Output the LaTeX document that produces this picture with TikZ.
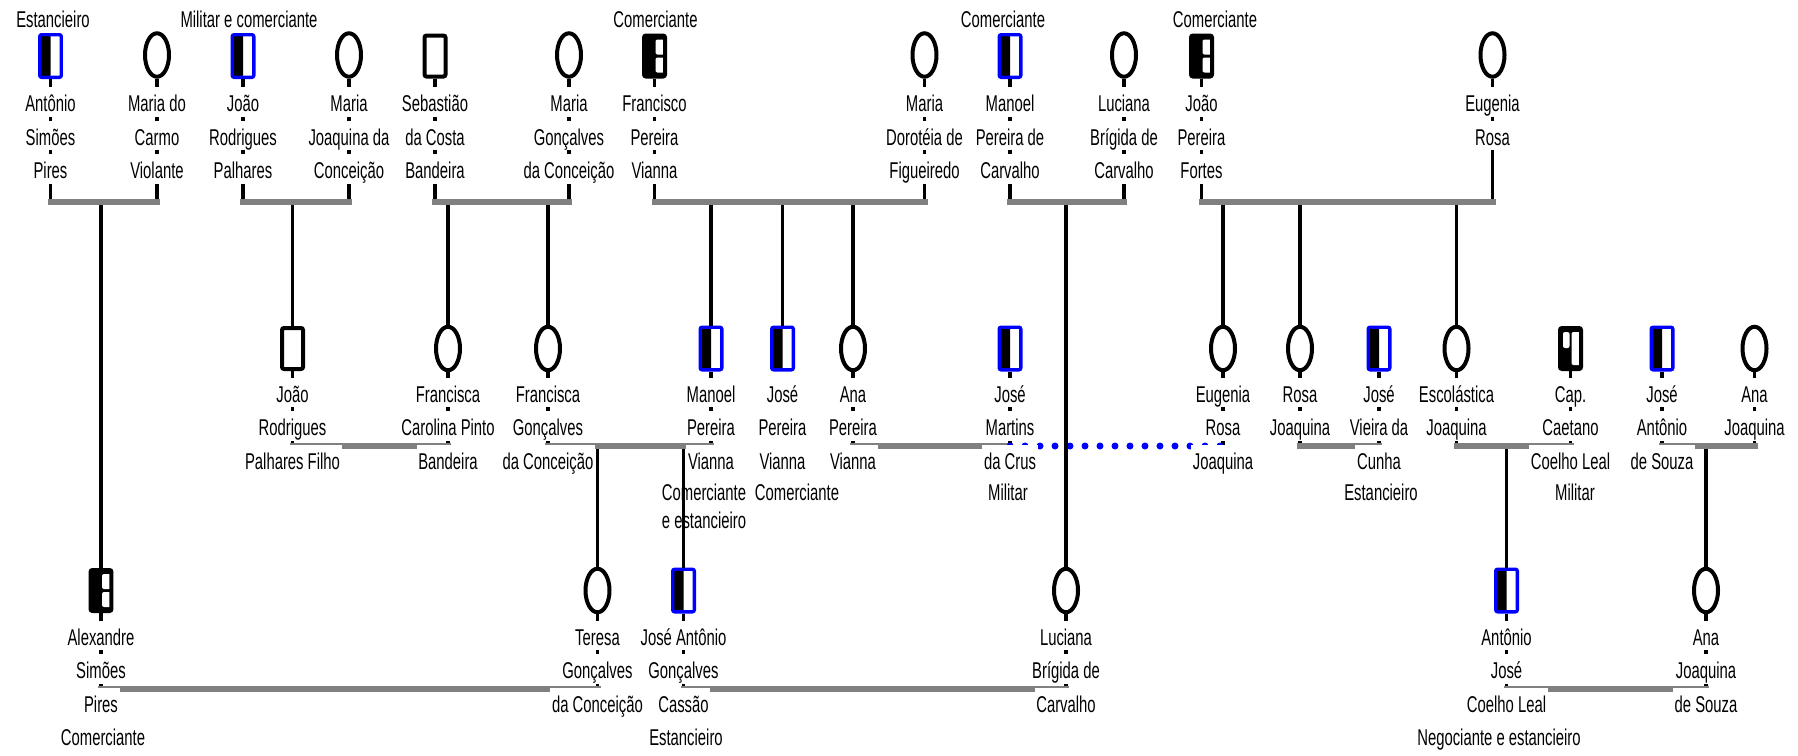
\documentclass[tikz,border=0pt]{standalone}
\usepackage{fontspec}
\usetikzlibrary{shapes,calc,positioning}
\newfontfamily\narrowsans[FakeStretch=0.65]{Liberation Sans}

\newcommand{\names}[4]{%
  \foreach \txt [count=\k] in {#4}
    \node[nameline] (#1-\k) at (#2,{#3+(\k-1)*33.5}) {\txt};}

\tikzset{
  female/.style={ellipse, draw, fill=white, line width=0.08cm, minimum width=0.48cm, minimum height=0.87cm, inner sep=0pt},
  male/.style={rectangle, rounded corners=0.04cm, draw, fill=white, line width=0.08cm, minimum width=0.42cm, minimum height=0.82cm, inner sep=0pt},
  maleblue/.style={male, draw=blue, line width=0.066cm, minimum width=0.434cm, minimum height=0.854cm,
    path picture={\fill[black] (path picture bounding box.south west) rectangle (path picture bounding box.north);}},
  maletrade/.style={male, fill=black, path picture={
    \fill[white] ($(path picture bounding box.center)+(0.02cm,0.03cm)$) rectangle ($(path picture bounding box.center)+(0.3cm,0.33cm)$);
    \fill[white] ($(path picture bounding box.center)+(0.02cm,-0.03cm)$) rectangle ($(path picture bounding box.center)+(0.3cm,-0.33cm)$);}},
  maleofficer/.style={male, fill=black, path picture={
    \fill[white] ($(path picture bounding box.center)+(0.02cm,-0.33cm)$) rectangle ($(path picture bounding box.center)+(0.3cm,0.33cm)$);
    \fill[white] ($(path picture bounding box.center)+(-0.15cm,0.01cm)$) rectangle ($(path picture bounding box.center)+(-0.02cm,0.33cm)$);}},
  link/.style={line width=0.07cm},
  couple/.style={line width=0.12cm, gray, line cap=rect},
  affair/.style={line width=0.14cm, blue, line cap=round, dash pattern=on 0pt off 0.3cm},
  nameline/.style={anchor=base, fill=white, inner xsep=1pt, inner ysep=0pt, text height=0.49cm, text depth=0.1cm,
    font=\narrowsans\fontsize{13}{15}\selectfont}
}

\begin{document}
\begin{tikzpicture}[x=0.02cm, y=-0.02cm]
\useasboundingbox (0,0) rectangle (1798,755);

\coordinate (topbar) at (0,202);
\coordinate (topdrop) at (0,205);
\coordinate (midbar) at (0,446);
\coordinate (middrop) at (0,449);
\coordinate (lowbar) at (0,688.5);

\node[maleblue] (antonio) at (50.5,56) {};
\node[female] (mariacarmo) at (157,55) {};
\node[maleblue] (joao) at (243,56) {};
\node[female] (mariajoaquina) at (349,55) {};
\node[male] (sebastiao) at (435,56) {};
\node[female] (mariagoncalves) at (569,55) {};
\node[maletrade] (francisco) at (654.5,56) {};
\node[female] (mariadoroteia) at (924.5,55) {};
\node[maleblue] (manoel) at (1010,56) {};
\node[female] (luciana) at (1124,55) {};
\node[maletrade] (joaofortes) at (1201.5,56) {};
\node[female] (eugenia) at (1492.5,55) {};

\node[male] (joaofilho) at (292.5,348.5) {};
\node[female] (francisca) at (448,348.5) {};
\node[female] (franciscag) at (548,348.5) {};
\node[maleblue] (manoelv) at (711,348.5) {};
\node[maleblue] (josev) at (782.5,348.5) {};
\node[female] (anav) at (853,348.5) {};
\node[maleblue] (josemartins) at (1010,348.5) {};
\node[female] (eugeniarj) at (1223,348.5) {};
\node[female] (rosaj) at (1300,348.5) {};
\node[maleblue] (josevieira) at (1379,348.5) {};
\node[female] (escolastica) at (1456.5,348.5) {};
\node[maleofficer] (caetano) at (1570.5,348.5) {};
\node[maleblue] (joseantonio) at (1662,348.5) {};
\node[female] (anajoaquina) at (1754.5,348.5) {};

\node[maletrade] (alexandre) at (101,590.5) {};
\node[female] (teresa) at (597.5,590.5) {};
\node[maleblue] (joseantoniog) at (683.5,590.5) {};
\node[female] (lucianab) at (1066,590.5) {};
\node[maleblue] (antoniojose) at (1506.5,590.5) {};
\node[female] (anasouza) at (1706,590.5) {};

\foreach \p in {antonio,mariacarmo,joao,mariajoaquina,sebastiao,mariagoncalves,francisco,mariadoroteia,manoel,luciana,joaofortes,eugenia}
  \draw[link] (\p) -- (\p |- topbar);
\foreach \p in {joaofilho,francisca,franciscag,manoelv,anav,josemartins,eugeniarj,rosaj,josevieira,escolastica,caetano,joseantonio,anajoaquina}
  \draw[link] (\p) -- (\p |- midbar);
\foreach \p in {alexandre,teresa,joseantoniog,lucianab,antoniojose,anasouza}
  \draw[link] (\p) -- (\p |- lowbar);

\draw[couple] (antonio |- topbar) -- (mariacarmo |- topbar);
\draw[couple] (joao |- topbar) -- (mariajoaquina |- topbar);
\draw[couple] (sebastiao |- topbar) -- (mariagoncalves |- topbar);
\draw[couple] (francisco |- topbar) -- (mariadoroteia |- topbar);
\draw[couple] (manoel |- topbar) -- (luciana |- topbar);
\draw[couple] (joaofortes |- topbar) -- (eugenia |- topbar);

\draw[couple] (joaofilho |- midbar) -- (francisca |- midbar);
\draw[couple] (franciscag |- midbar) -- (manoelv |- midbar);
\draw[couple] (anav |- midbar) -- (josemartins |- midbar);
\draw[affair] (josemartins |- midbar) -- (eugeniarj |- midbar);
\draw[couple] (rosaj |- midbar) -- (josevieira |- midbar);
\draw[couple] (escolastica |- midbar) -- (caetano |- midbar);
\draw[couple] (joseantonio |- midbar) -- (anajoaquina |- midbar);

\draw[couple] (alexandre |- lowbar) -- (teresa |- lowbar);
\draw[couple] (joseantoniog |- lowbar) -- (lucianab |- lowbar);
\draw[couple] (antoniojose |- lowbar) -- (anasouza |- lowbar);

\node[nameline] (antonio-job) at (53,27) {Estancieiro};
\node[nameline] (joao-job) at (249,27) {Militar e comerciante};
\node[nameline] (francisco-job) at (655.5,27) {Comerciante};
\node[nameline] (manoel-job) at (1003,27) {Comerciante};
\node[nameline] (joaofortes-job) at (1215,27) {Comerciante};

\names{antonio}{50.5}{111.5}{Antônio,Simões,Pires}
\names{mariacarmo}{157}{111.5}{Maria do,Carmo,Violante}
\names{joao}{243}{111.5}{João,Rodrigues,Palhares}
\names{mariajoaquina}{349}{111.5}{Maria,Joaquina da,Conceição}
\names{sebastiao}{435}{111.5}{Sebastião,da Costa,Bandeira}
\names{mariagoncalves}{569}{111.5}{Maria,Gonçalves,da Conceição}
\names{francisco}{654.5}{111.5}{Francisco,Pereira,Vianna}
\names{mariadoroteia}{924.5}{111.5}{Maria,Dorotéia de,Figueiredo}
\names{manoel}{1010}{111.5}{Manoel,Pereira de,Carvalho}
\names{luciana}{1124}{111.5}{Luciana,Brígida de,Carvalho}
\names{joaofortes}{1201.5}{111.5}{João,Pereira,Fortes}
\names{eugenia}{1492.5}{111.5}{Eugenia,Rosa}

\names{joaofilho}{292.5}{402}{João,Rodrigues,Palhares Filho}
\names{francisca}{448}{402}{Francisca,Carolina Pinto,Bandeira}
\names{franciscag}{548}{402}{Francisca,Gonçalves,da Conceição}
\names{manoelv}{711}{402}{Manoel,Pereira,Vianna}
\names{josev}{782.5}{402}{José,Pereira,Vianna}
\names{anav}{853}{402}{Ana,Pereira,Vianna}
\names{josemartins}{1010}{402}{José,Martins,da Crus}
\names{eugeniarj}{1223}{402}{Eugenia,Rosa,Joaquina}
\names{rosaj}{1300}{402}{Rosa,Joaquina}
\names{josevieira}{1379}{402}{José,Vieira da,Cunha}
\names{escolastica}{1456.5}{402}{Escolástica,Joaquina}
\names{caetano}{1570.5}{402}{Cap.,Caetano,Coelho Leal}
\names{joseantonio}{1662}{402}{José,Antônio,de Souza}
\names{anajoaquina}{1754.5}{402}{Ana,Joaquina}

\node[nameline] (manoelv-job) at (704,500) {Comerciante};
\node[nameline] (manoelv-job2) at (704,528) {e estancieiro};
\node[nameline] (josev-job) at (797,500) {Comerciante};
\node[nameline] (josemartins-job) at (1008,500) {Militar};
\node[nameline] (josevieira-job) at (1381,500) {Estancieiro};
\node[nameline] (caetano-job) at (1575,500) {Militar};

\names{alexandre}{101}{645}{Alexandre,Simões,Pires}
\names{teresa}{597.5}{645}{Teresa,Gonçalves,da Conceição}
\names{joseantoniog}{683.5}{645}{José Antônio,Gonçalves,Cassão}
\names{lucianab}{1066}{645}{Luciana,Brígida de,Carvalho}
\names{antoniojose}{1506.5}{645}{Antônio,José,Coelho Leal}
\names{anasouza}{1706}{645}{Ana,Joaquina,de Souza}

\node[nameline] (alexandre-job) at (103,745) {Comerciante};
\node[nameline] (joseantoniog-job) at (686,745) {Estancieiro};
\node[nameline] (antoniojose-job) at (1499,745) {Negociante e estancieiro};

\foreach \c in {alexandre,joaofilho,francisca,franciscag,manoelv,josev,anav,lucianab,eugeniarj,rosaj,escolastica}
  \draw[link] (\c |- topdrop) -- (\c);
\foreach \c in {teresa,joseantoniog,antoniojose,anasouza}
  \draw[link] (\c |- middrop) -- (\c);

\end{tikzpicture}
\end{document}
